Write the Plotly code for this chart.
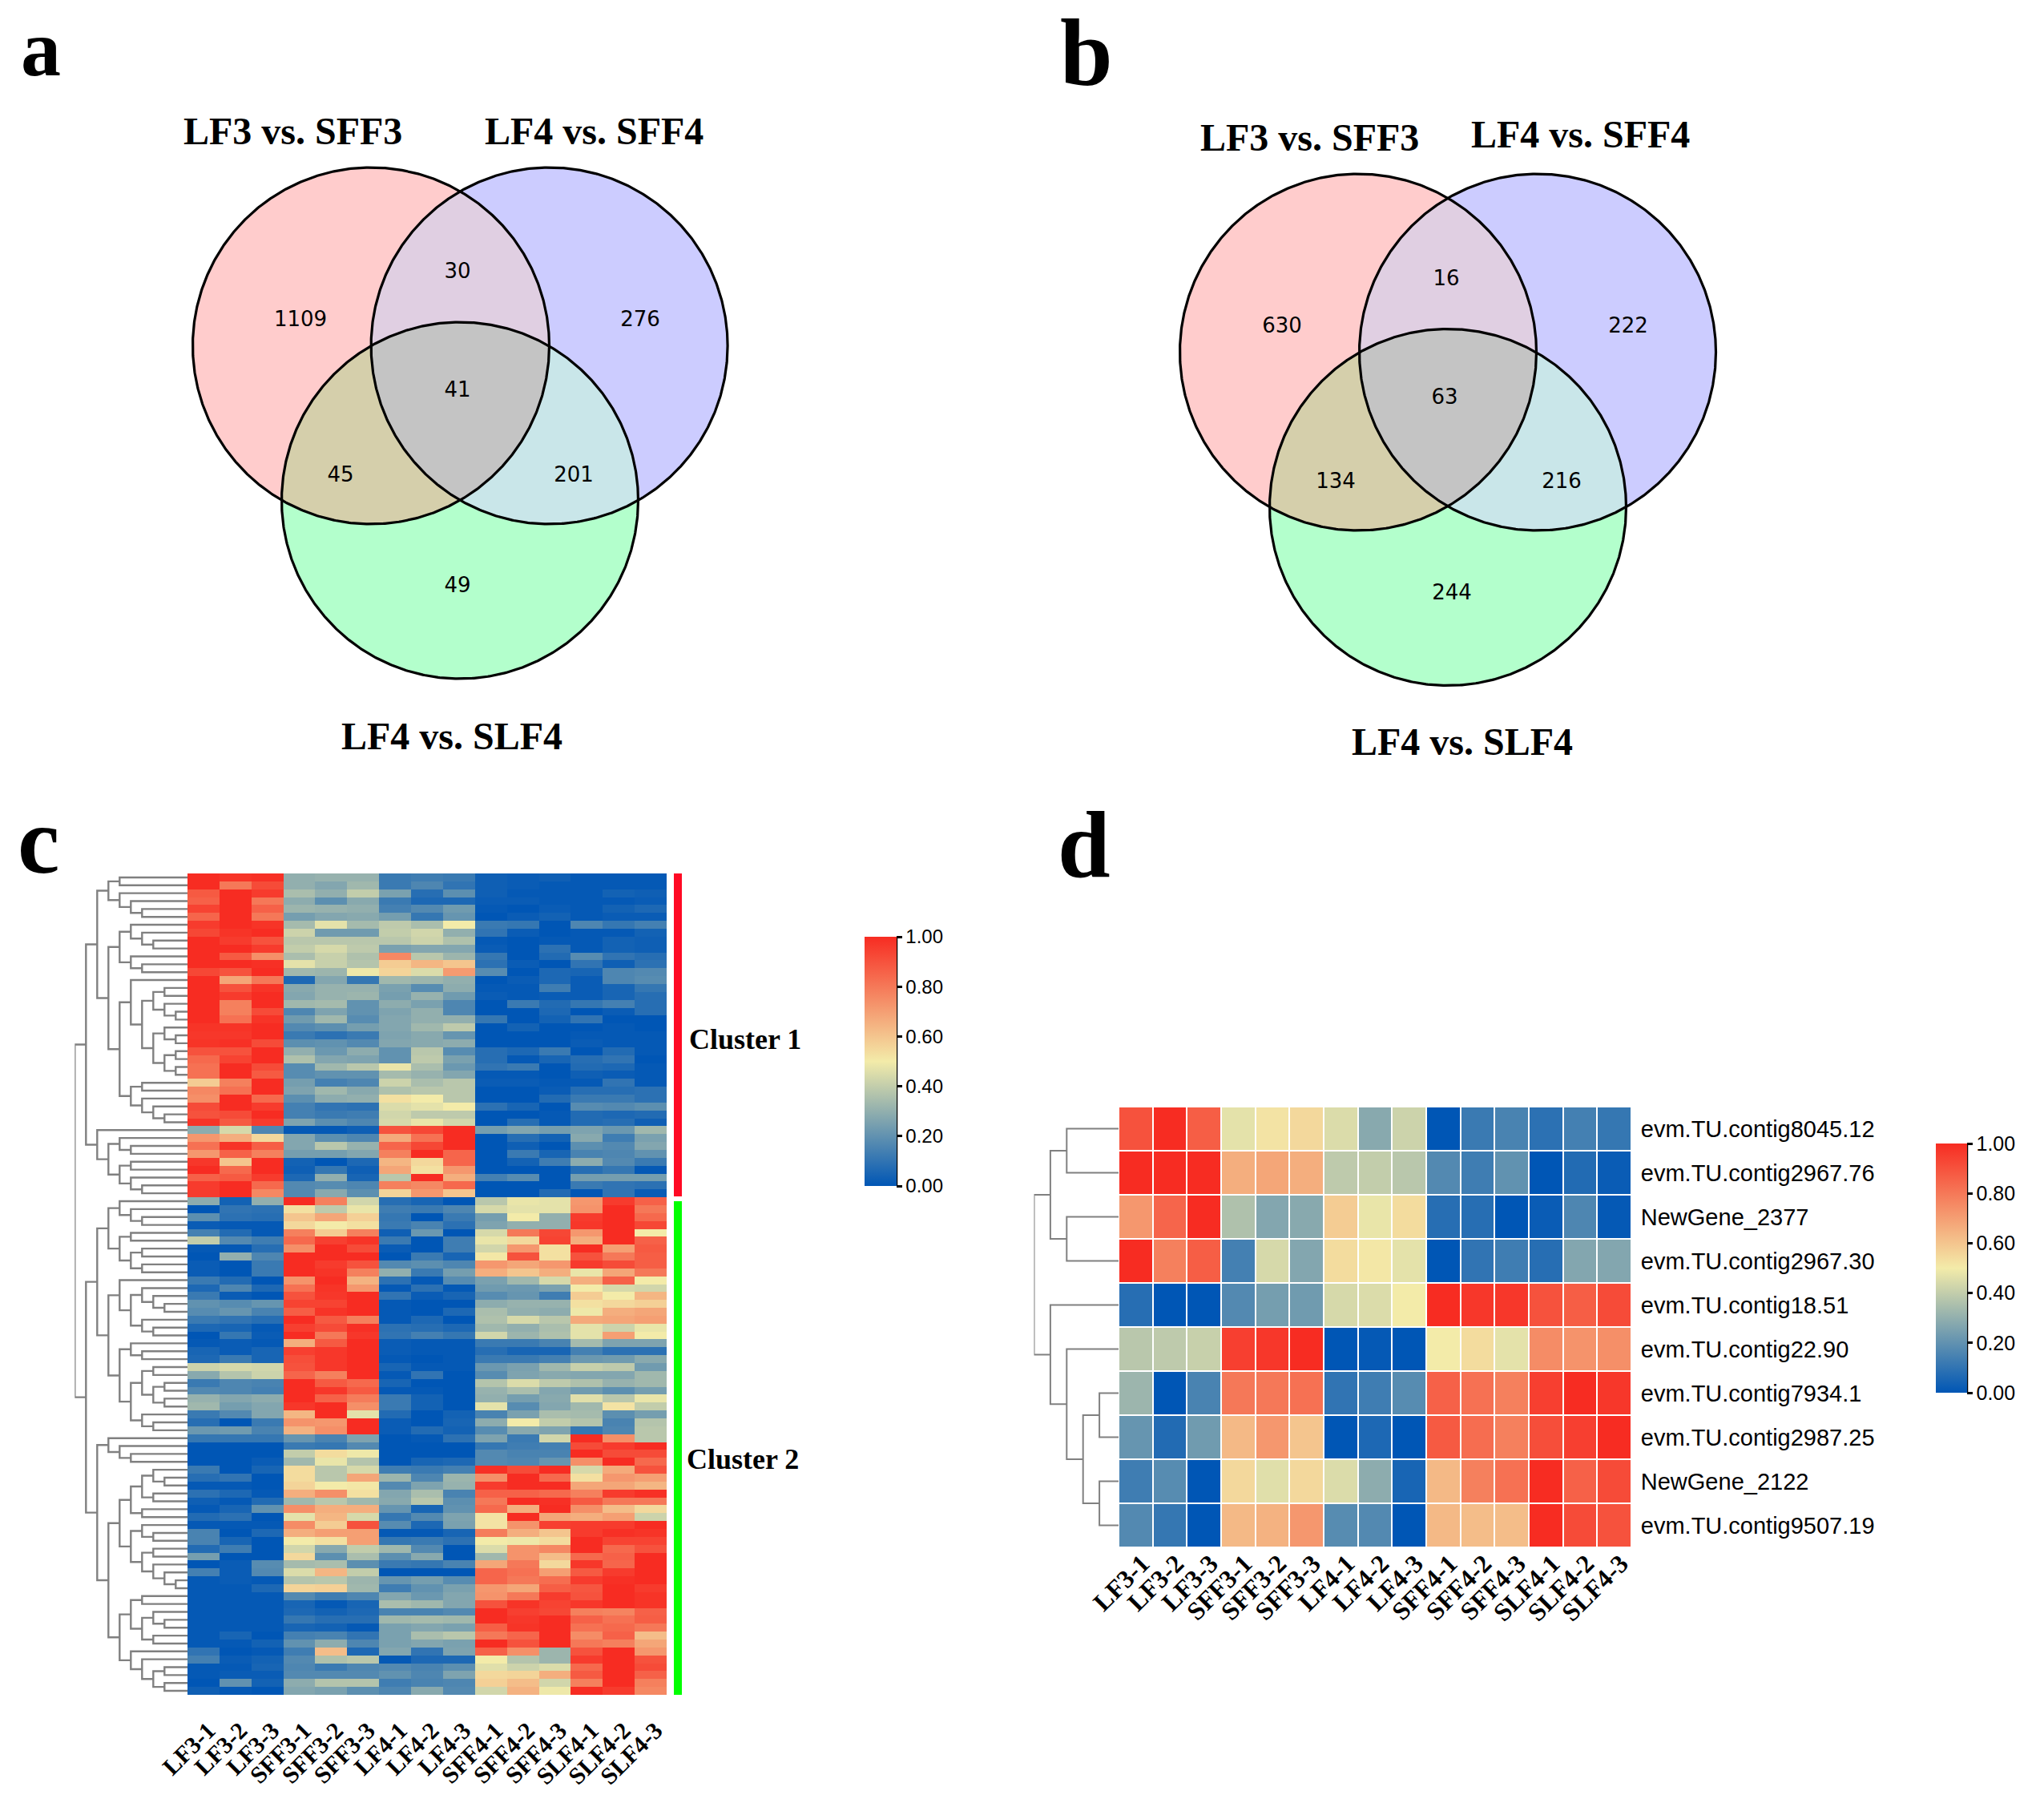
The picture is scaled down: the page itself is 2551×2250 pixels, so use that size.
import numpy as np
import plotly.graph_objects as go

W, H = 2551, 2250

# ---------- data ----------
samples = ["LF3-1","LF3-2","LF3-3","SFF3-1","SFF3-2","SFF3-3","LF4-1","LF4-2","LF4-3",
           "SFF4-1","SFF4-2","SFF4-3","SLF4-1","SLF4-2","SLF4-3"]
venn_names = ["LF3 vs. SFF3", "LF4 vs. SFF4", "LF4 vs. SLF4"]
venn_a_counts = [1109, 30, 276, 41, 45, 201, 49]
venn_b_counts = [630, 16, 222, 63, 134, 216, 244]
genes_d = ["evm.TU.contig8045.12","evm.TU.contig2967.76","NewGene_2377","evm.TU.contig2967.30",
           "evm.TU.contig18.51","evm.TU.contig22.90","evm.TU.contig7934.1","evm.TU.contig2987.25",
           "NewGene_2122","evm.TU.contig9507.19"]
heat_d = [
 [90,100,87,47,52,55,45,28,42,0,12,15,9,14,11],
 [100,100,100,66,68,66,39,40,38,17,13,20,0,7,2],
 [72,85,100,36,27,28,58,48,54,8,8,0,2,16,1],
 [100,78,87,14,44,27,54,51,47,0,10,13,8,27,27],
 [8,0,0,17,24,23,44,45,50,100,97,97,90,87,92],
 [38,39,41,95,97,100,0,1,0,50,54,47,75,73,74],
 [32,0,15,80,80,82,10,13,18,86,82,78,95,100,97],
 [21,7,23,63,72,60,0,6,0,88,83,78,91,95,100],
 [13,18,0,55,46,55,45,29,5,63,78,82,100,86,92],
 [17,11,0,63,65,72,18,17,0,63,62,62,100,92,90],
]
heat_c = [
 [100,98,99,30,31,31,12,13,12,3,2,3,1,1,1],
 [100,80,92,30,27,33,12,16,10,3,2,1,1,1,1],
 [88,100,96,35,30,40,25,8,19,3,1,1,1,4,3],
 [86,100,80,29,19,28,12,6,6,2,2,1,1,1,2],
 [94,100,86,32,31,30,14,17,23,1,0,2,1,4,6],
 [85,100,80,24,27,28,24,11,21,0,2,4,1,2,2],
 [96,100,98,34,47,34,39,35,50,12,11,0,16,11,14],
 [93,98,100,42,23,23,40,43,30,10,2,0,1,1,4],
 [100,96,90,38,38,38,38,42,36,1,0,1,1,4,3],
 [100,100,96,40,44,39,25,27,27,2,0,9,1,4,3],
 [100,88,74,35,41,36,76,38,32,11,0,7,18,10,8],
 [100,100,99,47,41,37,58,64,60,9,2,0,10,3,9],
 [93,90,100,33,32,49,56,45,71,18,0,6,5,16,17],
 [100,68,80,6,27,11,33,32,30,0,2,6,2,16,18],
 [100,90,98,28,31,31,25,18,29,1,1,13,2,5,11],
 [100,96,100,27,31,32,24,31,23,2,1,2,2,5,8],
 [100,78,100,33,34,20,29,25,16,0,12,7,11,14,8],
 [100,78,92,16,26,20,26,30,16,0,0,6,0,2,8],
 [100,82,98,23,33,18,27,30,30,11,0,4,10,0,0],
 [98,98,100,17,19,24,27,33,39,0,4,0,0,1,0],
 [97,97,100,12,9,12,26,28,21,0,0,0,1,1,1],
 [98,99,92,19,20,17,27,28,29,0,0,0,2,1,1],
 [90,90,100,30,22,29,20,38,18,8,6,12,0,7,1],
 [84,94,100,36,27,26,20,39,25,8,1,5,8,10,0],
 [82,100,92,18,33,38,48,35,22,10,12,0,7,6,1],
 [82,100,88,18,20,20,34,31,27,1,1,0,3,2,1],
 [58,78,100,24,14,16,42,35,38,2,2,1,1,10,1],
 [76,82,100,26,33,28,36,38,38,0,0,2,8,8,9],
 [74,100,84,19,29,30,53,50,38,0,0,7,12,12,9],
 [92,100,96,14,10,9,45,47,50,9,5,0,18,17,19],
 [90,92,100,14,12,13,43,39,39,0,0,1,7,6,7],
 [98,88,96,26,19,16,44,48,43,0,8,1,7,8,3],
 [29,44,16,1,1,3,90,93,100,24,27,24,26,22,33],
 [72,66,55,27,19,16,67,82,100,0,8,4,28,13,25],
 [82,98,87,27,38,31,85,93,100,0,3,0,19,17,27],
 [72,86,78,24,24,27,78,100,85,0,12,5,15,16,20],
 [97,60,100,4,0,6,64,55,85,0,4,13,29,17,12],
 [100,84,100,3,11,3,68,53,72,0,0,0,8,11,1],
 [86,88,96,6,30,5,38,100,66,14,18,0,24,24,24],
 [96,100,84,17,18,16,78,76,84,0,0,0,12,10,9],
 [96,100,76,17,28,19,56,72,60,0,0,7,0,10,2],
 [29,4,30,100,78,43,8,5,0,38,48,47,72,96,86],
 [0,10,9,53,39,48,13,12,16,44,47,47,73,100,80],
 [19,9,8,60,68,57,11,0,12,24,50,30,96,100,84],
 [2,1,1,55,50,53,12,15,9,26,30,30,97,100,93],
 [14,7,1,78,58,78,3,22,0,44,80,93,72,100,50],
 [40,17,13,84,95,98,12,0,13,48,55,94,66,100,86],
 [1,1,8,74,100,92,2,0,13,43,72,53,100,70,88],
 [0,30,16,100,100,100,0,12,5,51,90,53,90,80,87],
 [2,0,12,100,96,90,17,19,16,72,68,72,96,92,87],
 [2,0,12,100,98,78,30,12,24,66,60,66,48,68,80],
 [12,7,0,73,100,65,9,1,18,25,33,44,66,86,50],
 [6,16,6,82,98,72,1,9,1,23,22,25,50,44,43],
 [12,2,0,90,97,100,10,2,5,18,21,13,58,50,64],
 [20,18,21,94,94,100,1,0,0,29,31,31,53,55,57],
 [18,21,15,87,98,100,1,0,6,35,30,29,49,66,68],
 [12,10,8,100,88,78,1,6,0,36,44,38,67,68,70],
 [6,5,1,95,92,99,9,8,6,33,30,35,47,42,48],
 [0,11,2,100,80,97,10,14,11,43,32,36,47,70,50],
 [1,2,1,66,88,100,2,1,1,12,12,15,34,26,26],
 [5,2,5,95,97,100,2,1,1,8,5,5,14,9,9],
 [6,12,5,91,97,100,1,0,1,12,12,14,22,23,28],
 [42,44,43,90,97,100,5,1,1,22,25,33,41,39,23],
 [28,37,42,85,78,100,1,10,0,18,26,28,27,27,33],
 [12,16,15,100,88,84,5,0,0,37,45,39,36,31,33],
 [17,16,14,100,97,88,1,1,0,31,35,27,23,19,24],
 [31,27,29,100,86,79,12,4,0,30,24,28,46,38,48],
 [33,24,27,97,100,74,12,4,0,47,18,27,33,52,40],
 [12,17,27,64,100,47,7,0,4,15,25,35,34,19,24],
 [8,0,12,73,72,100,2,0,5,29,50,40,37,15,37],
 [22,23,15,65,74,100,2,7,4,18,28,26,11,16,38],
 [11,11,11,21,15,26,0,1,9,26,12,43,100,74,38],
 [0,0,0,12,11,17,0,0,0,11,13,14,92,96,100],
 [0,0,0,40,54,49,0,0,0,17,15,15,100,92,92],
 [0,0,2,33,48,37,0,5,6,17,16,21,74,100,84],
 [12,0,5,54,38,44,13,12,14,99,92,100,44,67,90],
 [8,10,0,54,38,68,32,16,32,74,100,84,53,72,70],
 [1,1,0,56,50,51,17,26,31,96,100,100,68,68,64],
 [9,6,1,66,74,53,27,35,15,86,86,84,78,96,99],
 [3,1,7,33,38,33,28,38,19,80,100,99,88,80,80],
 [1,5,20,74,66,66,21,5,20,84,66,100,74,62,55],
 [7,9,0,47,64,44,11,17,26,52,100,68,66,70,42],
 [1,1,1,75,58,90,18,6,25,52,73,95,96,96,100],
 [15,0,6,66,70,70,1,1,5,79,66,60,96,99,98],
 [15,5,0,50,53,70,11,12,9,50,49,54,100,94,94],
 [7,13,0,43,28,40,33,17,0,45,73,76,100,84,90],
 [24,0,0,55,19,35,19,28,0,33,73,62,84,86,100],
 [0,2,18,34,35,19,12,11,15,68,80,55,97,85,100],
 [14,2,17,45,64,40,0,0,0,85,82,70,88,96,100],
 [1,2,1,37,38,32,21,24,18,85,80,83,96,99,100],
 [1,1,6,56,57,33,13,20,25,72,68,87,89,100,96],
 [1,1,1,17,13,16,27,22,27,73,80,96,90,100,98],
 [1,1,1,5,1,5,35,33,27,90,98,94,97,100,98],
 [1,1,1,6,4,6,15,15,17,100,95,93,78,77,86],
 [1,1,1,11,8,8,33,34,33,100,97,100,86,82,87],
 [1,1,1,5,4,1,25,27,25,87,98,100,82,84,80],
 [1,5,0,14,15,10,25,35,38,80,85,100,75,86,62],
 [1,1,4,20,29,16,25,27,25,100,90,100,80,78,68],
 [10,0,1,13,62,6,27,10,26,86,74,32,90,100,72],
 [14,2,4,17,36,38,1,6,6,50,37,32,96,100,90],
 [1,1,5,16,12,16,17,15,19,46,42,45,84,100,92],
 [1,2,2,17,17,17,20,16,26,55,56,66,88,100,86],
 [0,20,4,29,37,37,13,15,16,57,62,43,78,100,78],
 [3,1,0,27,25,19,16,28,17,43,65,49,100,96,76],
]
cluster_names = ["Cluster 1", "Cluster 2"]
cluster_sizes = [41, 63]

# Dendrograms: nested pairs, integers are row numbers
tree_c_a1 = (((0,1),(2,(3,(4,5)))),
  (((6,(7,(8,9))),(10,(11,12))),
   ((13,(((14,15),(16,(17,18))),((19,(20,21)),((22,23),(24,25))))),
    ((26,27),(28,(29,(30,31)))))))
tree_c_a2 = (32,((33,(34,35)),((36,37),(38,(39,40)))))
tree_c_b1 = (((41,(42,(43,44))),((45,46),((47,48),(49,50)))),
  ((51,((52,(53,(54,55))),(56,(57,58)))),
   ((59,(60,61)),(((62,63),((64,65),(66,67))),(68,(69,70))))))
tree_c_b2 = ((71,(72,(73,74))),
  ((((((75,(76,77)),(78,79)),(80,81)),((82,(83,84)),((85,86),(87,(88,(89,90)))))),
    (((91,92),((93,(94,95)),(96,97))),(98,(99,((100,101),(102,103)))))))) 
tree_c = ((tree_c_a1, tree_c_a2), (tree_c_b1, tree_c_b2))
tree_d = (((0,1),(2,3)),(4,(5,((6,7),(8,9)))))

# ---------- layout constants (pixels in the 2551x2250 page) ----------
def dx(a, b): return [a / W, b / W]
def dy(t, b): return [1 - b / H, 1 - t / H]

SCALE = [[0, "#0056b5"], [0.5, "#f3eba9"], [1, "#f72c22"]]
SERIF = "Liberation Serif"
SANS = "Liberation Sans"
BOX_C = (234, 832, 1090, 2115)
BOX_D = (1396, 2036, 1381, 1931)
BAR_C = (1079, 1119, 1169, 1480)
BAR_D = (2416, 2455, 1427, 1738)
R = 222.5
VENN_A = dict(c=[(463, 431.5), (685.6, 431.5), (574, 624.5)],
              t=[(375,400),(571,340),(799,400),(571,488),(425,594),(716,594),(571,732)],
              lab=[(365,163),(741,163),(564,918)])
VENN_B = dict(c=[(1695, 439.5), (1919, 439.5), (1807, 633)],
              t=[(1600,408),(1805,349),(2032,408),(1803,497),(1667,602),(1949,602),(1812,741)],
              lab=[(1634,171),(1972,167),(1825,925)])

fig = go.Figure()
annots = []

# ---------- Venn ----------
def region(centres, inside):
    """Convex polygon of the intersection of the circles with indexes in `inside`."""
    pts = []
    th = np.linspace(0, 2*np.pi, 1441)
    for i in inside:
        cx, cy = centres[i]
        px, py = cx + R*np.cos(th), cy + R*np.sin(th)
        keep = np.ones_like(px, bool)
        for j in inside:
            if j != i:
                keep &= np.hypot(px - centres[j][0], py - centres[j][1]) <= R + 1e-6
        pts.append(np.c_[px[keep], py[keep]])
    pts = np.vstack(pts)
    c = pts.mean(axis=0)
    order = np.argsort(np.arctan2(pts[:,1]-c[1], pts[:,0]-c[0]))
    pts = pts[order]
    return np.r_[pts, pts[:1]]

REGION_COLOURS = [((0,), "#ffcccc"), ((1,), "#ccccff"), ((2,), "#b3ffcc"),
                  ((0,1), "#e0cfe2"), ((0,2), "#d5cfab"), ((1,2), "#c9e6e9"), ((0,1,2), "#c4c4c4")]

def venn(v, counts):
    for idx, col in REGION_COLOURS:
        p = region(v["c"], idx)
        fig.add_trace(go.Scatter(x=p[:,0], y=p[:,1], mode="lines", fill="toself", fillcolor=col,
                                 line=dict(width=0.5, color=col), hoverinfo="skip", showlegend=False))
    th = np.linspace(0, 2*np.pi, 721)
    for cx, cy in v["c"]:
        fig.add_trace(go.Scatter(x=cx + R*np.cos(th), y=cy + R*np.sin(th), mode="lines",
                                 line=dict(width=3.2, color="black"), hoverinfo="skip", showlegend=False))
    fig.add_trace(go.Scatter(x=[p[0] for p in v["t"]], y=[p[1] for p in v["t"]], mode="text",
                             text=[str(n) for n in counts],
                             textfont=dict(family="DejaVu Sans", size=26, color="black"), showlegend=False))
    for name, (x, y) in zip(venn_names, v["lab"]):
        annots.append(dict(x=x, y=y, xref="x", yref="y", text=name, showarrow=False,
                           font=dict(family=SERIF, size=48, color="black", weight="bold")))

venn(VENN_A, venn_a_counts)
venn(VENN_B, venn_b_counts)

for s, x, y, fs in [("a", 51, 60, 100), ("b", 1356, 65, 118), ("c", 48, 1049, 118), ("d", 1353, 1054, 118)]:
    annots.append(dict(x=x, y=y, xref="x", yref="y", text=s, showarrow=False,
                       font=dict(family=SERIF, size=fs, color="black", weight="bold")))

# ---------- dendrograms ----------
def dendro(tree, leaf_x):
    xs, ys = [], []
    def walk(node, depth):
        if isinstance(node, int):
            return node, leaf_x
        y1, x1 = walk(node[0], depth + 1)
        y2, x2 = walk(node[1], depth + 1)
        xs.extend([x1, depth, depth, x2, None])
        ys.extend([y1, y1, y2, y2, None])
        return (y1 + y2) / 2, depth
    walk(tree, 0)
    return xs, ys

# ---------- heatmap c ----------
z_c = np.array(heat_c) / 100
fig.add_trace(go.Heatmap(z=z_c, x=samples, y=list(range(len(heat_c))), xaxis="x2", yaxis="y2",
    colorscale=SCALE, zmin=0, zmax=1, hoverongaps=False,
    colorbar=dict(x=BAR_C[0]/W, xanchor="left", y=1-BAR_C[3]/H, yanchor="bottom",
                  len=BAR_C[3]-BAR_C[2], lenmode="pixels", thickness=BAR_C[1]-BAR_C[0], thicknessmode="pixels",
                  xpad=0, ypad=0, outlinewidth=0, tickvals=[0,.2,.4,.6,.8,1], tickformat=".2f",
                  ticks="outside", ticklen=7, tickwidth=2.5, tickcolor="black",
                  tickfont=dict(family=SANS, size=24, color="black"))))
C_LEAF = (BOX_C[0] - 93.3) / 14
xs, ys = dendro(tree_c, C_LEAF)
fig.add_trace(go.Scatter(x=xs, y=ys, xaxis="x3", yaxis="y3", mode="lines",
                         line=dict(color="#808080", width=2.4), hoverinfo="skip", showlegend=False))

# ---------- heatmap d ----------
z_d = np.array(heat_d) / 100
fig.add_trace(go.Heatmap(z=z_d, x=samples, y=genes_d, xaxis="x4", yaxis="y4",
    colorscale=SCALE, zmin=0, zmax=1, xgap=2, ygap=2,
    colorbar=dict(x=BAR_D[0]/W, xanchor="left", y=1-BAR_D[3]/H, yanchor="bottom",
                  len=BAR_D[3]-BAR_D[2], lenmode="pixels", thickness=BAR_D[1]-BAR_D[0], thicknessmode="pixels",
                  xpad=0, ypad=0, outlinewidth=0, tickvals=[0,.2,.4,.6,.8,1], tickformat=".2f",
                  ticks="outside", ticklen=7, tickwidth=2.5, tickcolor="black",
                  tickfont=dict(family=SANS, size=25, color="black"))))
D_LEAF = (BOX_D[0] - 1290.5) / 20.4
xs, ys = dendro(tree_d, D_LEAF)
fig.add_trace(go.Scatter(x=xs, y=ys, xaxis="x5", yaxis="y5", mode="lines",
                         line=dict(color="#808080", width=2), hoverinfo="skip", showlegend=False))

# ---------- cluster bars ----------
shapes = []
BAR_COL = ["#ff0a24", "#00ff00"]
row_edges = np.cumsum([0] + cluster_sizes) - 0.5
for i, name in enumerate(cluster_names):
    shapes.append(dict(type="rect", xref="x", yref="y2", x0=841, x1=851,
                       y0=row_edges[i] + (0.5 if i else 0.0), y1=row_edges[i+1] + (-0.1 if i == 0 else 0.5),
                       fillcolor=BAR_COL[i], line=dict(width=0)))
    annots.append(dict(x=930 if i == 0 else 927, y=1297 if i == 0 else 1821, xref="x", yref="y", text=name,
                       showarrow=False, font=dict(family=SERIF, size=36, color="black", weight="bold")))
for x_, (a, b, t, bt) in [(BAR_C[1], BAR_C), (BAR_D[1], BAR_D)]:
    shapes.append(dict(type="line", xref="x", yref="y", x0=x_, x1=x_, y0=t, y1=bt,
                       line=dict(color="black", width=2.5)))

hidden = dict(visible=False)
fig.update_layout(
    width=W, height=H, margin=dict(l=0, r=0, t=0, b=0, autoexpand=False), paper_bgcolor="white", plot_bgcolor="white",
    showlegend=False, annotations=annots, shapes=shapes,
    xaxis=dict(domain=[0, 1], range=[0, W], **hidden),
    yaxis=dict(domain=[0, 1], range=[H, 0], **hidden),
    xaxis2=dict(domain=dx(BOX_C[0], BOX_C[1]), anchor="y2", type="category", tickangle=-45, ticks="outside",
                ticklen=14, tickcolor="rgba(0,0,0,0)", showgrid=False, zeroline=False, showline=False,
                ticklabelshift=6,
                tickfont=dict(family=SERIF, size=30, color="black", weight="bold")),
    yaxis2=dict(domain=dy(BOX_C[2], BOX_C[3]), anchor="x2", range=[len(heat_c)-0.5, -0.5], visible=False),
    xaxis3=dict(domain=dx(93.3, BOX_C[0]), anchor="y3", range=[0, C_LEAF], visible=False),
    yaxis3=dict(domain=dy(BOX_C[2], BOX_C[3]), anchor="x3", range=[len(heat_c)-0.5, -0.5], visible=False),
    xaxis4=dict(domain=dx(BOX_D[0], BOX_D[1]), anchor="y4", type="category", tickangle=-45,
                showgrid=False, zeroline=False, showline=False, ticks="",
                ticklabelshift=8, ticklabelstandoff=-6,
                tickfont=dict(family=SERIF, size=32, color="black", weight="bold")),
    yaxis4=dict(domain=dy(BOX_D[2], BOX_D[3]), anchor="x4", side="right", type="category",
                range=[len(genes_d)-0.5, -0.5], ticks="outside", ticklen=5, tickcolor="rgba(0,0,0,0)",
                showgrid=False, zeroline=False, showline=False,
                tickfont=dict(family=SANS, size=29, color="black")),
    xaxis5=dict(domain=dx(1290.5, BOX_D[0]), anchor="y5", range=[0, D_LEAF], visible=False),
    yaxis5=dict(domain=dy(BOX_D[2], BOX_D[3]), anchor="x5", range=[len(genes_d)-0.5, -0.5], visible=False),
)
fig.write_html("out.html", post_script="document.body.style.margin='0';", config=dict(displayModeBar=False))
